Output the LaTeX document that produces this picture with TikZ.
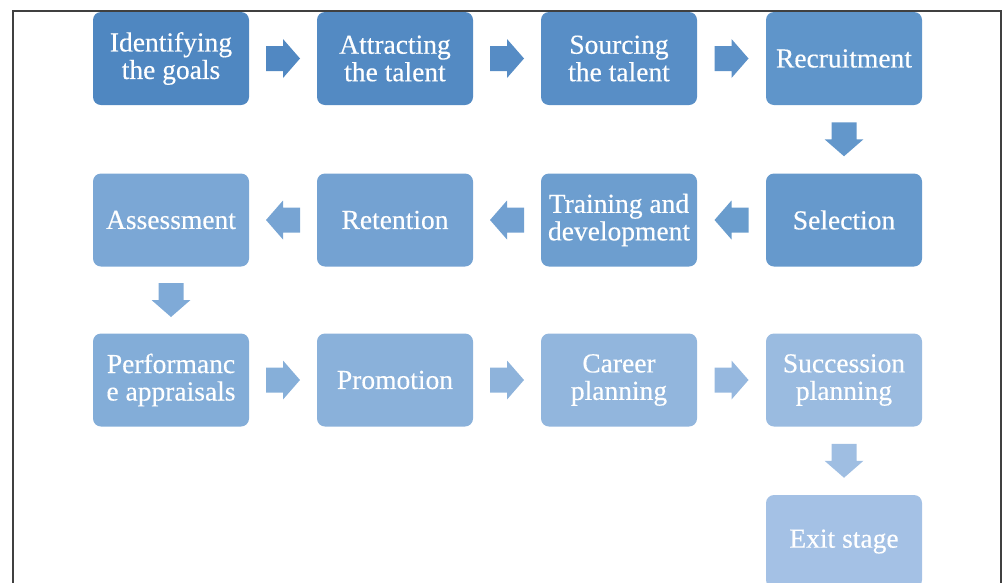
\documentclass[tikz,border=0pt]{standalone}
\usepackage{fontspec}
\setmainfont{Liberation Serif}
\newfontfamily\boxfont{Liberation Serif}[FakeBold=0.35]
\usetikzlibrary{calc}
\definecolor{c1}{HTML}{4F87C1}
\definecolor{c2}{HTML}{538AC3}
\definecolor{c3}{HTML}{588EC6}
\definecolor{c4}{HTML}{5F95CA}
\definecolor{c5}{HTML}{6699CC}
\definecolor{c6}{HTML}{6D9ECF}
\definecolor{c7}{HTML}{74A2D2}
\definecolor{c8}{HTML}{7BA7D5}
\definecolor{c9}{HTML}{83ADD8}
\definecolor{c10}{HTML}{8AB1DA}
\definecolor{c11}{HTML}{92B6DD}
\definecolor{c12}{HTML}{9ABBE0}
\definecolor{c13}{HTML}{A4C1E5}
\definecolor{framecol}{HTML}{404040}
\tikzset{
  stagebox/.style={rectangle, rounded corners=8pt, minimum width=156pt, minimum height=93pt,
    inner sep=2pt, align=center, text=white,
    font=\boxfont\fontsize{27.5}{27.5}\selectfont},
  pics/barrow/.style={code={\fill[pic actions] (-17,-12.5) -- (0,-12.5) -- (0,-19.5) -- (17,0) -- (0,19.5) -- (0,12.5) -- (-17,12.5) -- cycle;}}
}
\begin{document}
\begin{tikzpicture}[x=1pt,y=-1pt]
\useasboundingbox (0,0) rectangle (1003,582);
\clip (0,0) rectangle (1003,582);
\draw[framecol, line width=1.4pt] (13,600) -- (13,11) -- (1001,11) -- (1001,600);
% row 1
\node[stagebox, fill=c1] (n1) at (171,58.5) {Identifying\\the goals};
\node[stagebox, fill=c2] (n2) at (395,58.5) {Attracting\\the talent};
\node[stagebox, fill=c3] (n3) at (619,58.5) {Sourcing\\the talent};
\node[stagebox, fill=c4] (n4) at (844,58.5) {Recruitment};
% row 2
\node[stagebox, fill=c5] (n5) at (844,220) {Selection};
\node[stagebox, fill=c6] (n6) at (619,220) {Training and\\development};
\node[stagebox, fill=c7] (n7) at (395,220) {Retention};
\node[stagebox, fill=c8] (n8) at (171,220) {Assessment};
% row 3
\node[stagebox, fill=c9] (n9) at (171,380) {Performanc\\e appraisals};
\node[stagebox, fill=c10] (n10) at (395,380) {Promotion};
\node[stagebox, fill=c11] (n11) at (619,380) {Career\\planning};
\node[stagebox, fill=c12] (n12) at (844,380) {Succession\\planning};
% row 4
\node[stagebox, fill=c13] (n13) at (844,541.5) {Exit stage};
% arrows
\pic[fill=c1!50!c2] at ($(n1.east)!0.5!(n2.west)$) {barrow};
\pic[fill=c2!50!c3] at ($(n2.east)!0.5!(n3.west)$) {barrow};
\pic[fill=c3!50!c4] at ($(n3.east)!0.5!(n4.west)$) {barrow};
\pic[fill=c4!50!c5, rotate=-90] at ($(n4.south)!0.5!(n5.north)$) {barrow};
\pic[fill=c5!50!c6, rotate=180] at ($(n5.west)!0.5!(n6.east)$) {barrow};
\pic[fill=c6!50!c7, rotate=180] at ($(n6.west)!0.5!(n7.east)$) {barrow};
\pic[fill=c7!50!c8, rotate=180] at ($(n7.west)!0.5!(n8.east)$) {barrow};
\pic[fill=c8!50!c9, rotate=-90] at ($(n8.south)!0.5!(n9.north)$) {barrow};
\pic[fill=c9!50!c10] at ($(n9.east)!0.5!(n10.west)$) {barrow};
\pic[fill=c10!50!c11] at ($(n10.east)!0.5!(n11.west)$) {barrow};
\pic[fill=c11!50!c12] at ($(n11.east)!0.5!(n12.west)$) {barrow};
\pic[fill=c12!50!c13, rotate=-90] at ($(n12.south)!0.5!(n13.north)$) {barrow};
\end{tikzpicture}
\end{document}
